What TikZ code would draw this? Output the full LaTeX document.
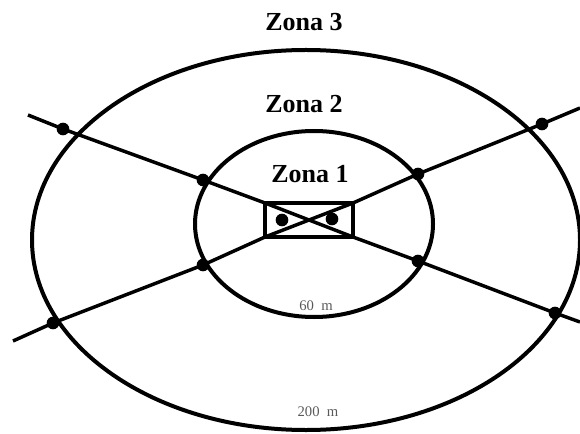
\documentclass[tikz,border=0pt]{standalone}
\usepackage{fontspec}
\setmainfont{Liberation Serif}
\begin{document}
\begin{tikzpicture}[x=0.75pt,y=-0.75pt,
  zone/.style={line width=3pt},
  road/.style={line width=2.6pt, line join=round},
  box/.style={line width=2.3pt},
  pt/.style={circle, fill=black, inner sep=0pt, minimum size=9.5pt},
  zlabel/.style={font=\fontsize{19.5}{20}\selectfont\bfseries, inner sep=0pt},
  dist/.style={font=\fontsize{11}{12}\selectfont, text=black!65, inner sep=0pt}]
\useasboundingbox (0,0) rectangle (580,434);
% zones
\draw[zone] (306,240) ellipse [x radius=274, y radius=190];
\draw[zone] (314,224) ellipse [x radius=119, y radius=93];
% rectangle
\coordinate (rtl) at (265,203);
\coordinate (rtr) at (353,203);
\coordinate (rbr) at (353,237);
\coordinate (rbl) at (265,237);
\draw[box] (rtl) -- (rtr) -- (rbr) -- (rbl) -- cycle;
% points
\node[pt] (o1) at (63,129) {};
\node[pt] (i1) at (203,180) {};
\node[pt] (i2) at (418,261) {};
\node[pt] (o2) at (555,313) {};
\node[pt] (o3) at (53,323) {};
\node[pt] (i3) at (203,265) {};
\node[pt] (i4) at (418,174) {};
\node[pt] (o4) at (542,124) {};
\node[pt] (c1) at (282,220) {};
\node[pt] (c2) at (332,219) {};
% free ends
\coordinate (e1) at (28,115);
\coordinate (e2) at (580,322);
\coordinate (e3) at (13,341);
\coordinate (e4) at (580,108);
% roads
\draw[road] (e1) -- (o1.center) -- (i1.center) -- (rtl) -- (rbr) -- (i2.center) -- (o2.center) -- (e2);
\draw[road] (e3) -- (o3.center) -- (i3.center) -- (rbl) -- (rtr) -- (i4.center) -- (o4.center) -- (e4);
% labels
\node[zlabel] (z3) at (304,22) {Zona 3};
\node[zlabel] (z2) at (304,104) {Zona 2};
\node[zlabel] (z1) at (310,174) {Zona 1};
\node[dist] (d60) at (316,306) {60\ \ m};
\node[dist] (d200) at (318,412) {200\ \ m};
\end{tikzpicture}
\end{document}
